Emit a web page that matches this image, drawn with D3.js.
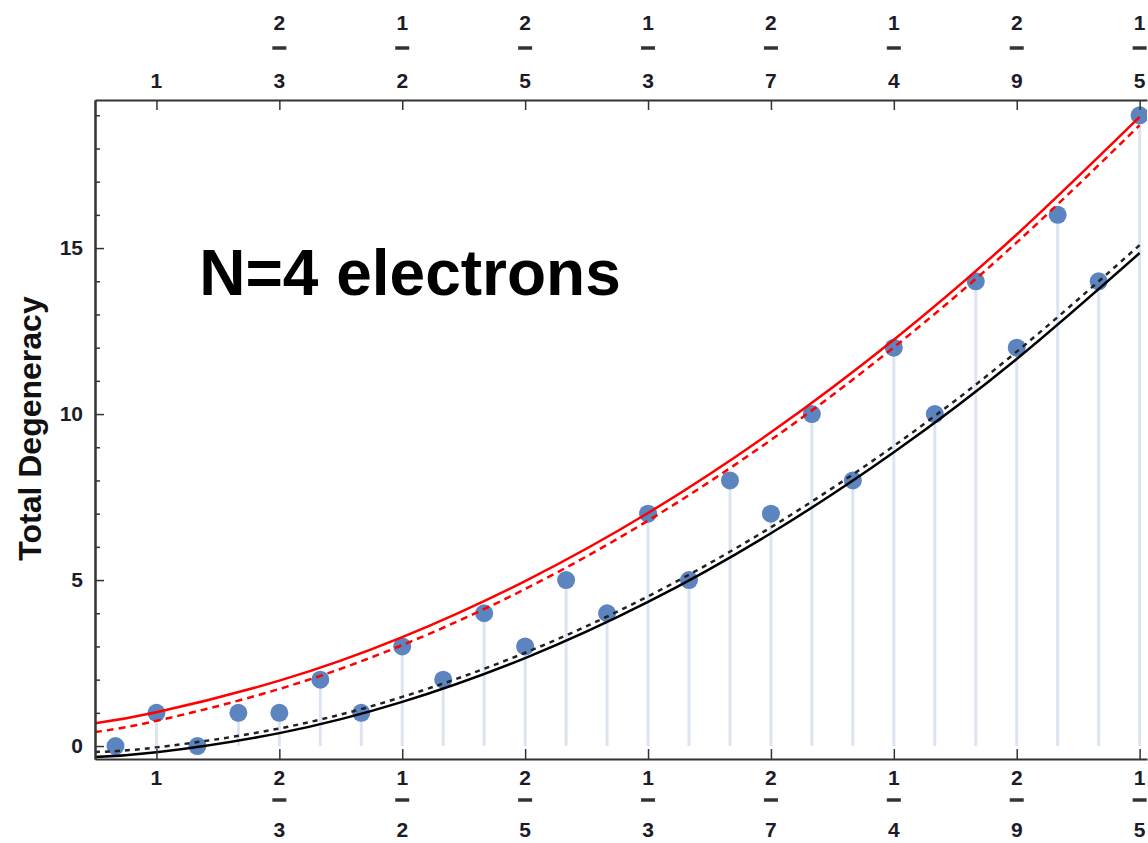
<!DOCTYPE html>
<html><head><meta charset="utf-8">
<script src="https://cdn.jsdelivr.net/npm/d3@7"></script>
<style>body{margin:0;background:#fff}svg{display:block}text{font-family:"Liberation Sans",Arial,sans-serif}</style>
</head><body>
<svg id="chart" width="1148" height="843"></svg>
<script>
// x positions are 1/nu values; points every 1/6
const pointX = [5/6, 6/6, 7/6, 8/6, 9/6, 10/6, 11/6, 12/6, 13/6, 14/6, 15/6, 16/6, 17/6, 18/6, 19/6, 20/6, 21/6, 22/6, 23/6, 24/6, 25/6, 26/6, 27/6, 28/6, 29/6, 30/6];
const degeneracy = [0, 1, 0, 1, 1, 2, 1, 3, 2, 4, 3, 5, 4, 7, 5, 8, 7, 10, 8, 12, 10, 14, 12, 16, 14, 19];

// curve readings (x in 1/nu)
const curveX = [0.75, 1, 1.5, 2, 2.5, 3, 3.5, 4, 4.5, 5];
const redSolid  = [0.69, 1.02, 1.97, 3.28, 4.97, 7.02, 9.45, 12.24, 15.41, 18.95];
const redDashed = [0.42, 0.76, 1.72, 3.04, 4.73, 6.79, 9.22, 12.01, 15.17, 18.70];
const blackDashed = [-0.18, -0.04, 0.53, 1.48, 2.81, 4.51, 6.59, 9.04, 11.88, 15.09];
const blackSolid  = [-0.33, -0.19, 0.39, 1.33, 2.65, 4.34, 6.41, 8.85, 11.66, 14.85];

// fraction tick labels
const tickPos = [1, 1.5, 2, 2.5, 3, 3.5, 4, 4.5, 5];
const tickNum = ["1", "2", "1", "2", "1", "2", "1", "2", "1"];
const tickDen = ["", "3", "2", "5", "3", "7", "4", "9", "5"];
const yMajor = [0, 5, 10, 15];
const yMinor = d3.range(0, 20);

const yLabel = "Total Degeneracy";
const annotation = "N=4 electrons";

const svg = d3.select("#chart");
const mLeft = 95, mTop = 100, mRight = 1147, mBottom = 759;
const x = d3.scaleLinear().domain([0.75, 5.03]).range([mLeft, mRight]);
const y = d3.scaleLinear().domain([-0.39, 19.46]).range([mBottom, mTop]);

svg.append("defs").append("clipPath").attr("id", "clip")
  .append("rect").attr("x", mLeft).attr("y", mTop).attr("width", mRight - mLeft).attr("height", mBottom - mTop);

const plot = svg.append("g").attr("clip-path", "url(#clip)");

// stems
plot.selectAll("line.stem").data(pointX.map((v, i) => [v, degeneracy[i]]))
  .enter().append("line").attr("class", "stem")
  .attr("x1", d => x(d[0])).attr("x2", d => x(d[0]))
  .attr("y1", y(0)).attr("y2", d => y(d[1]))
  .attr("stroke", "#dbe4f0").attr("stroke-width", 3);

// points
plot.selectAll("circle.pt").data(pointX.map((v, i) => [v, degeneracy[i]]))
  .enter().append("circle").attr("class", "pt")
  .attr("cx", d => x(d[0])).attr("cy", d => y(d[1])).attr("r", 9)
  .attr("fill", "#5c84bf");

const line = d3.line().x(d => x(d[0])).y(d => y(d[1])).curve(d3.curveNatural);
function drawCurve(vals, color, dash) {
  plot.append("path").datum(curveX.map((v, i) => [v, vals[i]]))
    .attr("d", line).attr("fill", "none").attr("stroke", color)
    .attr("stroke-width", 2.5).attr("stroke-dasharray", dash || null);
}
drawCurve(blackSolid, "#000");
drawCurve(blackDashed, "#222", "5,5");
drawCurve(redSolid, "#ff0000");
drawCurve(redDashed, "#ff0000", "7,5");

// axes
const axisColor = "#333";
const fontSize = 21;
const bAxis = d3.axisBottom(x).tickValues(tickPos).tickSizeInner(-10).tickSizeOuter(0).tickFormat("");
const tAxis = d3.axisTop(x).tickValues(tickPos).tickSizeInner(-10).tickSizeOuter(0).tickFormat("");
const lMajor = d3.axisLeft(y).tickValues(yMajor).tickSizeInner(-9).tickSizeOuter(0).tickFormat(d3.format("d")).tickPadding(12);
const lMinor = d3.axisLeft(y).tickValues(yMinor.filter(v => v % 5 !== 0)).tickSizeInner(-5).tickSizeOuter(0).tickFormat("");

function styleAxis(g) {
  g.select(".domain").attr("stroke", axisColor).attr("stroke-width", 2);
  g.selectAll(".tick line").attr("stroke", axisColor).attr("stroke-width", 1.5);
  g.selectAll("text").attr("font-size", fontSize).attr("font-weight", "bold").attr("fill", "#1c1c28")
    .attr("font-family", "'Liberation Sans', Arial, sans-serif");
}
svg.append("g").attr("transform", `translate(0,${mBottom})`).call(bAxis).call(styleAxis);
svg.append("g").attr("transform", `translate(0,${mTop})`).call(tAxis).call(styleAxis);
svg.append("g").attr("transform", `translate(${mLeft},0)`).call(lMinor).call(styleAxis);
svg.append("g").attr("transform", `translate(${mLeft},0)`).call(lMajor).call(styleAxis);

// fraction labels
function fracLabels(isTop) {
  const g = svg.append("g");
  tickPos.forEach((p, i) => {
    const cx = x(p);
    const numY = isTop ? 22 : 777;
    const barY = isTop ? 48 : 800;
    const denY = isTop ? 80 : 829;
    const single = tickDen[i] === "";
    const ty = single ? (isTop ? denY : numY) : numY;
    g.append("text").attr("x", cx).attr("y", ty).attr("dy", "0.36em")
      .attr("text-anchor", "middle").attr("font-size", fontSize).attr("font-weight", "bold")
      .attr("fill", "#1c1c28").text(tickNum[i]);
    if (!single) {
      g.append("line").attr("x1", cx - 7).attr("x2", cx + 7).attr("y1", barY).attr("y2", barY)
        .attr("stroke", "#333").attr("stroke-width", 3.5);
      g.append("text").attr("x", cx).attr("y", denY).attr("dy", "0.36em")
        .attr("text-anchor", "middle").attr("font-size", fontSize).attr("font-weight", "bold")
        .attr("fill", "#1c1c28").text(tickDen[i]);
    }
  });
}
fracLabels(true);
fracLabels(false);

// y label
svg.append("text").attr("transform", `translate(41,${(mTop + mBottom) / 2 - 1}) rotate(-90)`)
  .attr("text-anchor", "middle").attr("font-size", 32).attr("font-weight", "bold")
  .attr("fill", "#111").text(yLabel);

// annotation
svg.append("text").attr("x", 410).attr("y", 295).attr("text-anchor", "middle")
  .attr("font-size", 64).attr("font-weight", "bold").attr("fill", "#000").text(annotation);
</script>
</body></html>
